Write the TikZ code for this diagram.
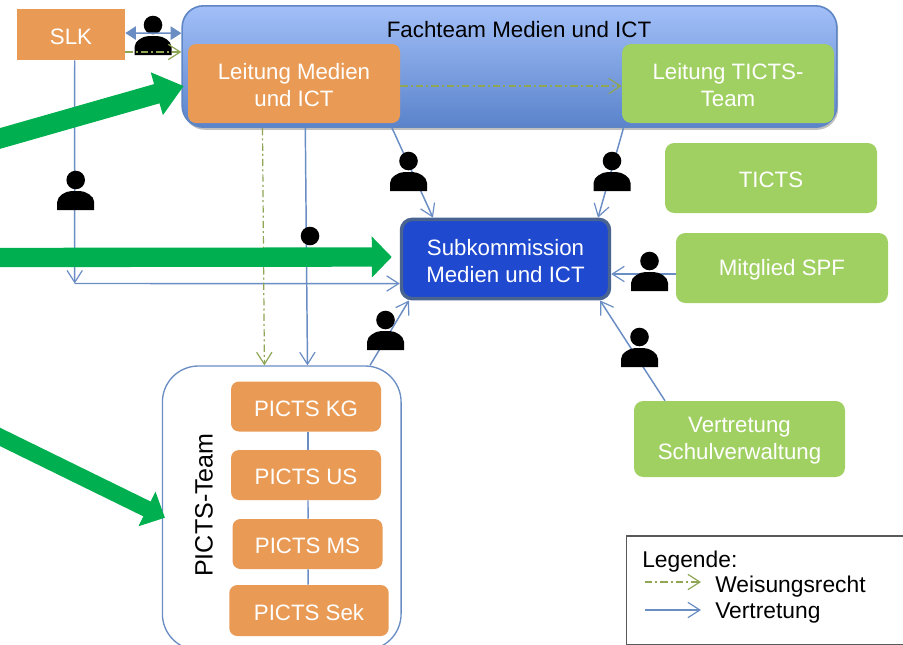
\documentclass[tikz,border=0pt]{standalone}
\usepackage{fontspec}
\setmainfont{Liberation Sans}
\usetikzlibrary{arrows.meta,shadows}
\definecolor{orangebox}{HTML}{E99B56}
\definecolor{greenbox}{HTML}{A0D062}
\definecolor{lineblue}{HTML}{6A8DC4}
\definecolor{linegreen}{HTML}{8FA655}
\definecolor{arrowgreen}{HTML}{00B050}
\definecolor{subblue}{HTML}{1F49CF}
\definecolor{subedge}{HTML}{4A6491}
\definecolor{fachtop}{HTML}{A2BFF8}
\definecolor{fachbot}{HTML}{5A83CB}
\definecolor{fachedge}{HTML}{5F86C4}
\newcommand\dn[1]{\raisebox{-1.4pt}[\height][\depth]{#1}}
\tikzset{
  x=0.75pt,y=-0.75pt,
  lbl/.style={font=\fontsize{16.7}{20}\selectfont,text=white,align=center,inner sep=0pt},
  orangeb/.style={lbl,fill=orangebox,rounded corners=6pt},
  greenb/.style={lbl,fill=greenbox,rounded corners=7pt},
  barb/.style={-{Straight Barb[length=9pt,width=11.5pt,line width=0.9pt]}},
  vertr/.style={draw=lineblue,line width=1.1pt,barb},
  plainl/.style={draw=lineblue,line width=1.1pt},
  weis/.style={draw=linegreen,line width=0.9pt,dash pattern=on 5.5pt off 2.3pt on 1.5pt off 2.3pt,barb},
  person/.pic={
    \fill[black] (0,-30) circle (9.3);
    \fill[black] (-18.5,0) -- (-18.5,-8) .. controls (-18.5,-14) and (-10,-19) .. (-4,-19) -- (4,-19) .. controls (10,-19) and (18.5,-14) .. (18.5,-8) -- (18.5,0) -- cycle;
  },
  legtext/.style={font=\fontsize{17.1}{20}\selectfont,anchor=base west,inner sep=0pt,text=black}
}
\begin{document}
\begin{tikzpicture}
\useasboundingbox (0,0) rectangle (903,644);
\fill[white] (0,0) rectangle (903,644);
% containers
\node[draw=fachedge,line width=1.2pt,rounded corners=16pt,inner sep=0pt,
  top color=fachtop,bottom color=fachbot,
  drop shadow={shadow xshift=1pt,shadow yshift=-2pt,opacity=.35,fill=black!70},
  minimum width=491pt,minimum height=91pt] (fach) at (509.5,66.5) {};
\node[font=\fontsize{16.75}{20}\selectfont,inner sep=0pt,text=black] (fachtitle) at (519,30) {Fachteam Medien und ICT};
\node[draw=lineblue,line width=1pt,fill=white,rounded corners=27pt,minimum width=179pt,minimum height=213pt,inner sep=0pt] (team) at (281.75,508) {};
\node[font=\fontsize{18.8}{20}\selectfont,rotate=90,inner sep=0pt,text=black] (teamtitle) at (204,505) {PICTS-Team};
% boxes
\node[lbl,fill=orangebox,minimum width=81pt,minimum height=38.25pt] (slk) at (71,34.5) {\dn{SLK}};
\node[orangeb,minimum width=159pt,minimum height=59.25pt] (lm) at (294,83.5) {\dn{Leitung Medien}\\\dn{und ICT}};
\node[greenb,minimum width=159pt,minimum height=59.25pt] (lt) at (728,83.5) {\dn{Leitung TICTS-}\\\dn{Team}};
\node[greenb,minimum width=159pt,minimum height=52.5pt] (ticts) at (771,178) {\dn{TICTS}};
\node[greenb,minimum width=159pt,minimum height=52.5pt] (mit) at (782,268) {\dn{Mitglied SPF}};
\node[greenb,minimum width=158.25pt,minimum height=57pt] (vt) at (739.5,439) {\dn{Vertretung}\\\dn{Schulverwaltung}};
\node[lbl,fill=subblue,draw=subedge,line width=2.6pt,rounded corners=8pt,minimum width=156pt,minimum height=59.5pt] (sub) at (505.5,259) {\dn{Subkommission}\\\dn{Medien und ICT}};
\node[orangeb,minimum width=112.5pt,minimum height=37.5pt] (kg) at (306,406.5) {\dn{PICTS KG}};
\node[orangeb,minimum width=112.5pt,minimum height=37.5pt] (us) at (306,475) {\dn{PICTS US}};
\node[orangeb,minimum width=112.5pt,minimum height=37.5pt] (ms) at (307.5,544) {\dn{PICTS MS}};
\node[orangeb,minimum width=119.6pt,minimum height=38.25pt] (sek) at (309,610.5) {\dn{PICTS Sek}};
% SLK person lies below its connectors
\pic at (153,55) {person};
% connectors
\draw[plainl] ([xshift=1.5pt]kg.south) -- ([xshift=1.5pt]us.north);
\draw[plainl] ([xshift=1.5pt]us.south) -- ([xshift=.4pt]ms.north);
\draw[plainl] ([xshift=.4pt]ms.south) -- ([xshift=-.7pt]sek.north);
\draw[draw=lineblue,line width=1.1pt,{Triangle[length=8pt,width=10pt]}-{Triangle[length=8pt,width=10pt]}] ([yshift=1.1pt]slk.east) -- ([yshift=25pt]fach.west);
\draw[weis] ([yshift=-13.1pt]slk.east) -- ([yshift=10.9pt]fach.west);
\coordinate (corner) at (74.7,283.5);
\draw[vertr] ([xshift=2.8pt]slk.south) -- (corner);
\draw[vertr] (corner) -- ([yshift=-18.4pt]sub.west);
\draw[weis] ([yshift=-1.9pt]lm.east) -- ([yshift=-1.9pt]lt.west);
\draw[weis] ([xshift=-185.25pt]fach.south) -- ([xshift=-13pt]team.north);
\draw[vertr] ([xshift=-153.15pt]fach.south) -- ([xshift=19.3pt]team.north);
\draw[vertr] ([xshift=-88.1pt]fach.south) -- ([xshift=-54.4pt]sub.north);
\draw[vertr] ([xshift=85.5pt]fach.south) -- ([xshift=69.4pt]sub.north);
\draw[vertr] ([yshift=-4.5pt]mit.west) -- ([yshift=-11.25pt]sub.east);
\draw[vertr] ([xshift=-55.9pt]vt.north) -- ([xshift=70.9pt]sub.south);
\draw[vertr] ([xshift=66.2pt]team.north) -- ([xshift=-72.4pt]sub.south);
% persons
\pic at (75.7,210) {person};
\pic at (408.5,191) {person};
\pic at (612,191) {person};
\pic at (649.5,291) {person};
\pic at (639.5,367) {person};
\pic at (385.5,350) {person};
\fill[black] (310,236) circle (9.3);
% big green arrows
\coordinate (ga1s) at (-10,141.3);
\coordinate (ga2s) at (-10,257.5);
\coordinate (ga3s) at (-10,432);
\draw[draw=arrowgreen,line width=15pt,-{Triangle[length=21pt,width=32pt]}] (ga1s) -- ([xshift=-3pt,yshift=-1.9pt]lm.west);
\draw[draw=arrowgreen,line width=14.5pt,-{Triangle[length=15pt,width=30pt]}] (ga2s) -- ([xshift=-6pt,yshift=1.5pt]sub.west);
\draw[draw=arrowgreen,line width=12.4pt,-{Triangle[length=15pt,width=28pt]}] (ga3s) -- ([xshift=2.4pt,yshift=-7.3pt]team.west);
% legend
\node[draw=black!65,line width=0.9pt,fill=white,minimum width=211.1pt,minimum height=81.2pt,inner sep=0pt] (legend) at (767.25,590.15) {};
\node[legtext] (l1) at (642,567) {Legende:};
\node[legtext] (l2) at (715,592) {Weisungsrecht};
\node[legtext] (l3) at (715,618) {Vertretung};
\coordinate (w1) at (645,582);
\coordinate (w2) at (701,582);
\coordinate (v1) at (645,610);
\coordinate (v2) at (701,610);
\draw[weis] (w1) -- (w2);
\draw[vertr] (v1) -- (v2);
\end{tikzpicture}
\end{document}
